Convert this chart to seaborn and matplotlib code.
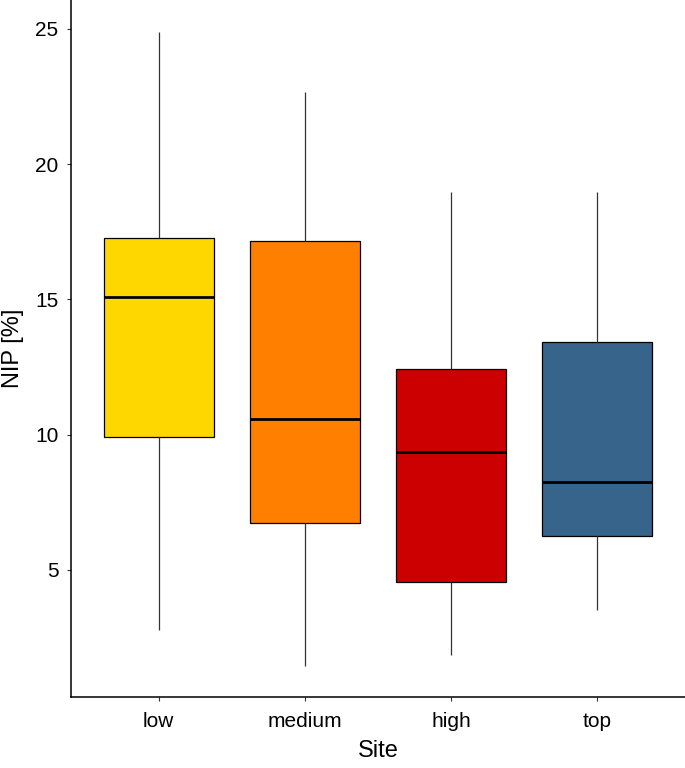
import numpy as np
import pandas as pd
import matplotlib
matplotlib.use("Agg")
import matplotlib.pyplot as plt
import seaborn as sns

# Ringkasan lima angka per site (min, Q1, median, Q3, max)
sites = ["low", "medium", "high", "top"]
nip_low = [2.78, 9.92, 15.09, 17.27, 24.89]
nip_medium = [1.45, 6.74, 10.58, 17.16, 22.67]
nip_high = [1.86, 4.56, 9.36, 12.43, 18.97]
nip_top = [3.52, 6.26, 8.25, 13.43, 18.97]
colors = ["#FFD700", "#FF7F00", "#CC0000", "#36648B"]
yticks = [5, 10, 15, 20, 25]

df = pd.DataFrame({
    "Site": np.repeat(sites, 5),
    "NIP": nip_low + nip_medium + nip_high + nip_top,
})

sns.set_style("ticks")
plt.rcParams["font.family"] = ["Liberation Sans", "DejaVu Sans"]

fig = plt.figure(figsize=(6.85, 7.68), dpi=100)
ax = fig.add_axes([71 / 685, 71 / 768, 614 / 685, 697 / 768])

sns.boxplot(
    data=df, x="Site", y="NIP", hue="Site", order=sites, hue_order=sites,
    palette=colors, width=0.75, whis=(0, 100), saturation=1, legend=False,
    linewidth=0.9, linecolor="black",
    medianprops={"linewidth": 2, "color": "black"},
    whiskerprops={"linewidth": 0.9, "color": "#333333"},
    capprops={"linewidth": 0},
    ax=ax,
)

ax.set_xlim(-0.6, 3.6)
ax.set_ylim(0.3, 26.07)
ax.set_yticks(yticks)
ax.set_yticklabels([str(t) for t in yticks])
ax.tick_params(axis="both", labelsize=15, length=3, width=0.8, color="#333333",
               labelcolor="black")
ax.tick_params(axis="x", pad=8)
ax.tick_params(axis="y", pad=6)
ax.set_xlabel("Site", fontsize=17, labelpad=6, color="black")
ax.set_ylabel("NIP [%]", fontsize=17, labelpad=8, color="black")
for side in ["top", "right"]:
    ax.spines[side].set_visible(False)
for side in ["left", "bottom"]:
    ax.spines[side].set_linewidth(1.1)
    ax.spines[side].set_color("black")

fig.savefig("out.png", dpi=100)
plt.close(fig)
